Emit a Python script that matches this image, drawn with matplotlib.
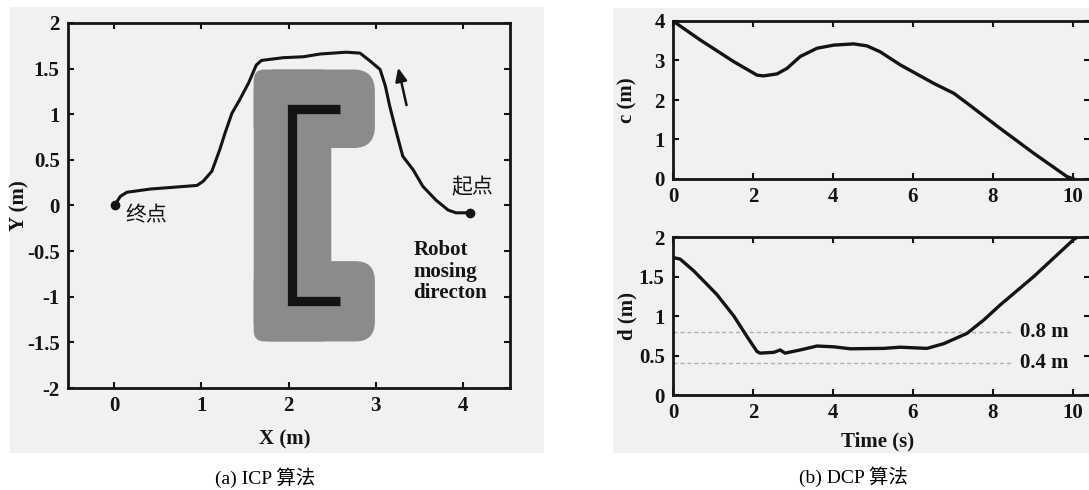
import matplotlib
matplotlib.use("Agg")
import matplotlib.pyplot as plt
from matplotlib.patches import FancyBboxPatch, Rectangle

plt.rcParams['font.family'] = ['Liberation Serif', 'Noto Sans CJK SC']
plt.rcParams['axes.unicode_minus'] = False

# ---------------- data: panel (a) ----------------
traj_x = [0.01, 0.07, 0.145, 0.41, 0.68, 0.95, 1.02, 1.12, 1.21, 1.27, 1.35, 1.44, 1.54,
          1.63, 1.69, 1.94, 2.17, 2.36, 2.66, 2.82, 2.94, 3.05, 3.11, 3.16, 3.24, 3.31,
          3.43, 3.54, 3.69, 3.83, 3.92, 4.08]
traj_y = [0.01, 0.10, 0.145, 0.18, 0.20, 0.22, 0.265, 0.375, 0.61, 0.79, 1.01, 1.16, 1.34,
          1.54, 1.59, 1.62, 1.63, 1.66, 1.68, 1.67, 1.58, 1.49, 1.31, 1.09, 0.79, 0.54,
          0.39, 0.21, 0.06, -0.05, -0.08, -0.08]
end_point = (0.01, 0.0)
start_point = (4.08, -0.085)
arrow_tail = (3.36, 1.07)
arrow_head = (3.25, 1.54)

# C-shaped obstacle (centre line) and its inflated region
bracket_x = [2.595, 2.04, 2.04, 2.595]
bracket_y = [1.06, 1.06, -1.047, -1.047]
region_spine = (1.60, -1.49, 2.49, 1.49)     # x0, y0, x1, y1
region_upper = (1.60, 0.63, 2.99, 1.49)
region_lower = (1.60, -1.49, 2.99, -0.61)

xa_ticks = [0, 1, 2, 3, 4]
ya_ticks = [-2, -1.5, -1, -0.5, 0, 0.5, 1, 1.5, 2]
ya_labels = ['-2', '-1.5', '-1', '-0.5', '0', '0.5', '1', '1.5', '2']

# ---------------- data: panel (b) ----------------
time_c = [0, 0.68, 1.52, 2.1, 2.26, 2.6, 2.85, 3.18, 3.6, 4.02, 4.52, 4.85, 5.18, 5.68,
          6.52, 7.02, 7.35, 8.18, 9.02, 9.85, 10.02]
c_vals = [4.0, 3.52, 2.97, 2.63, 2.61, 2.66, 2.80, 3.10, 3.31, 3.39, 3.42, 3.37, 3.22, 2.89,
          2.42, 2.17, 1.92, 1.28, 0.65, 0.06, 0.0]
time_d = [0, 0.18, 0.52, 0.85, 1.1, 1.52, 1.85, 2.1, 2.18, 2.52, 2.68, 2.8, 3.18, 3.6,
          4.02, 4.43, 5.27, 5.68, 6.35, 6.77, 7.35, 7.77, 8.18, 9.02, 9.85, 10.02, 10.12]
d_vals = [1.74, 1.72, 1.57, 1.40, 1.27, 1.00, 0.74, 0.55, 0.53, 0.54, 0.57, 0.53, 0.57, 0.62,
          0.61, 0.585, 0.59, 0.605, 0.59, 0.65, 0.78, 0.95, 1.14, 1.50, 1.89, 1.97, 2.0]
thresholds = [0.8, 0.4]
threshold_labels = ['0.8 m', '0.4 m']
xb_ticks = [0, 2, 4, 6, 8, 10]
c_ticks = [0, 1, 2, 3, 4]
d_ticks = [0, 0.5, 1, 1.5, 2]
d_labels = ['0', '0.5', '1', '1.5', '2']

captions = ['(a) ICP 算法', '(b) DCP 算法']

# ---------------- figure ----------------
W, H = 1089, 490
fig = plt.figure(figsize=(W / 100, H / 100), dpi=100)
fig.patch.set_facecolor('white')
BG = '#f1f1f3'
FS = 15
FW = 'bold'
INK = '#141414'


def px_axes(l, t, r, b):
    return fig.add_axes([l / W, 1 - b / H, (r - l) / W, (b - t) / H])


for (l, t, r, b) in [(10, 7, 544, 453), (613, 8, 1089, 453)]:
    fig.patches.append(Rectangle((l / W, 1 - b / H), (r - l) / W, (b - t) / H,
                                 transform=fig.transFigure, facecolor=BG,
                                 edgecolor='none', zorder=-10))


def style(ax):
    ax.set_facecolor(BG)
    for s in ax.spines.values():
        s.set_linewidth(2.0)
        s.set_color(INK)
    ax.tick_params(direction='in', length=4, width=1.5, top=True, right=True,
                   labelsize=FS, pad=6, colors=INK)


def set_ticks(ax, xt, yt, ylabels=None):
    ax.set_xticks(xt)
    ax.set_xticklabels([str(v) for v in xt], fontweight=FW)
    ax.set_yticks(yt)
    ax.set_yticklabels(ylabels if ylabels else [str(v) for v in yt], fontweight=FW)


# ---- panel (a) ----
axa = px_axes(68, 23, 510, 388)
style(axa)
axa.set_xlim(-0.53, 4.54)
axa.set_ylim(-2, 2)

gray = '#8b8b8b'
for (x0, y0, x1, y1), r in [(region_upper, 0.24), (region_lower, 0.22), (region_spine, 0.12)]:
    axa.add_patch(FancyBboxPatch((x0, y0), x1 - x0, y1 - y0,
                                 boxstyle=f"round,pad=0,rounding_size={r}",
                                 facecolor=gray, edgecolor='none', zorder=1))
axa.plot(bracket_x, bracket_y, color=INK, lw=6.7, solid_joinstyle='miter',
         solid_capstyle='butt', zorder=2)

axa.plot(traj_x, traj_y, color=INK, lw=2.2, zorder=3)
axa.plot(*end_point, 'o', color=INK, ms=6, zorder=4)
axa.plot(*start_point, 'o', color=INK, ms=6, zorder=4)
axa.annotate('', xy=arrow_head, xytext=arrow_tail,
             arrowprops=dict(arrowstyle='-|>,head_length=0.8,head_width=0.35',
                             color=INK, lw=1.8), zorder=4)

axa.text(0.13, -0.12, '终点', fontsize=FS, va='center', ha='left', color=INK)
axa.text(3.87, 0.19, '起点', fontsize=FS, va='center', ha='left', color=INK)
axa.text(3.43, -0.725, 'Robot\nmosing\ndirecton', fontsize=FS, fontweight=FW,
         va='center', ha='left', linespacing=1.08, color=INK)

set_ticks(axa, xa_ticks, ya_ticks, ya_labels)
axa.set_xlabel('X (m)', fontsize=FS, fontweight=FW, color=INK)
axa.set_ylabel('Y (m)', fontsize=FS, fontweight=FW, color=INK)
axa.xaxis.set_label_coords(0.49, -0.115)
axa.yaxis.set_label_coords(-0.087, 0.5)

# ---- panel (b) top ----
axc = px_axes(673, 21, 1090, 179)
style(axc)
axc.plot(time_c, c_vals, color=INK, lw=2.4)
axc.set_xlim(0, 10.425)
axc.set_ylim(0, 4)
set_ticks(axc, xb_ticks, c_ticks)
axc.set_ylabel('c (m)', fontsize=FS, fontweight=FW, color=INK)
axc.yaxis.set_label_coords(-0.085, 0.5)

# ---- panel (b) bottom ----
axd = px_axes(673, 237, 1090, 395)
style(axd)
axd.hlines(thresholds, 0, 8.5, colors='#b4acb4', linestyles=(0, (3, 2)), lw=1.0)
for v, lab in zip(thresholds, threshold_labels):
    axd.text(8.68, v, lab, fontsize=FS, fontweight=FW, va='center', ha='left', color=INK)
axd.plot(time_d, d_vals, color=INK, lw=2.4)
axd.set_xlim(0, 10.425)
axd.set_ylim(0, 2)
set_ticks(axd, xb_ticks, d_ticks, d_labels)
axd.set_xlabel('Time (s)', fontsize=FS, fontweight=FW, color=INK)
axd.set_ylabel('d (m)', fontsize=FS, fontweight=FW, color=INK)
axd.yaxis.set_label_coords(-0.085, 0.5)
axd.xaxis.set_label_coords(0.49, -0.23)

fig.text(265 / W, 1 - 478 / H, captions[0], fontsize=14, ha='center', va='center')
fig.text(853 / W, 1 - 477 / H, captions[1], fontsize=14, ha='center', va='center')

fig.savefig('out.png', dpi=100, facecolor='white')
